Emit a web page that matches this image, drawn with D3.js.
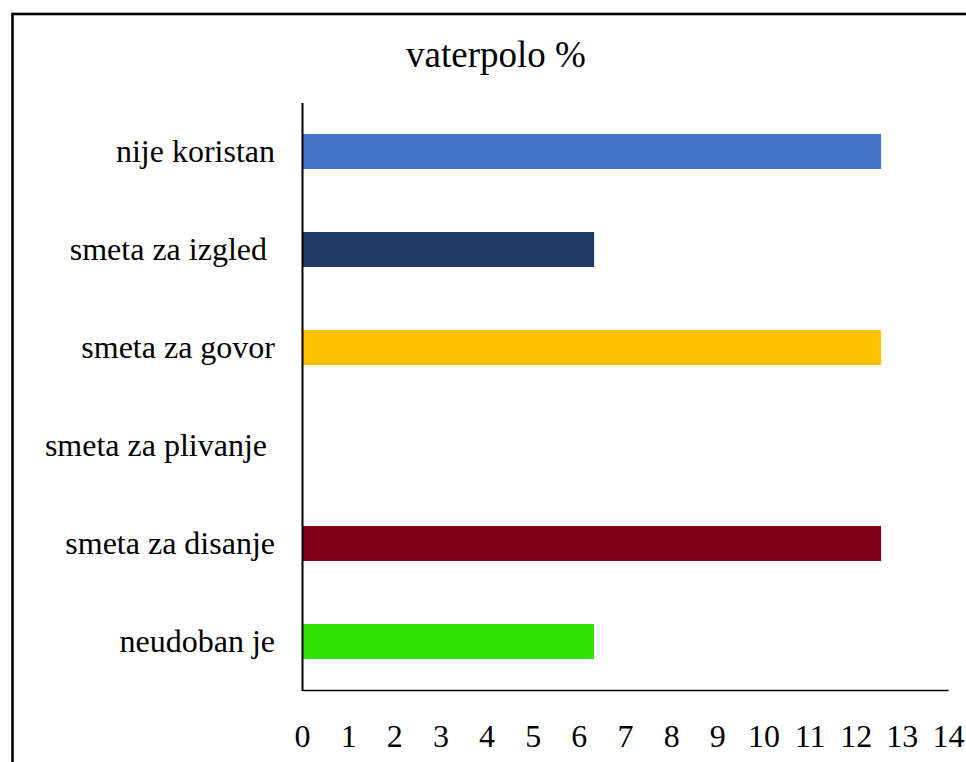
<!DOCTYPE html>
<html>
<head>
<meta charset="utf-8">
<script src="https://cdn.jsdelivr.net/npm/d3@7"></script>
<style>
  body { margin: 0; background: #fff; }
  text { font-family: "Liberation Serif", "Times New Roman", serif; fill: #000; }
</style>
</head>
<body>
<script>
// ---------------------- data ----------------------
var categories = ["nije koristan", "smeta za izgled ", "smeta za govor", "smeta za plivanje ", "smeta za disanje", "neudoban je"];
var values = [12.55, 6.33, 12.55, 0, 12.55, 6.33];
var barColors = ["#4472C4", "#1F3864", "#FFC000", "#7F7F7F", "#7E0016", "#31E206"];
var xTicks = [0, 1, 2, 3, 4, 5, 6, 7, 8, 9, 10, 11, 12, 13, 14];
var title = "vaterpolo %";

// ---------------------- svg + frame ----------------------
var svg = d3.select("body")
     .append("svg")
     .attr("width", 966)
     .attr("height", 762);

svg.append("rect")
     .attr("x", 12.5)
     .attr("y", 14)
     .attr("width", 1000)
     .attr("height", 800)
     .attr("fill", "none")
     .attr("stroke", "#000")
     .attr("stroke-width", 2.6);

// ---------------------- scales ----------------------
var x = d3.scaleLinear().domain([0, 14]).range([302, 948]);
var y = d3.scaleBand()
     .domain(categories)
     .range([102.5, 690.5])
     .paddingInner(0.643)
     .paddingOuter(0.3215);

// ---------------------- title ----------------------
svg.append("text")
     .text(title)
     .attr("x", 496)
     .attr("y", 67)
     .attr("text-anchor", "middle")
     .style("font-size", "37px");

// ---------------------- bars ----------------------
svg.selectAll("rect.bar")
     .data(values)
     .enter()
     .append("rect")
     .attr("class", "bar")
     .attr("x", x(0))
     .attr("y", function(d, i) { return y(categories[i]); })
     .attr("width", function(d) { return x(d) - x(0); })
     .attr("height", y.bandwidth())
     .attr("fill", function(d, i) { return barColors[i]; });

// ---------------------- axes ----------------------
var xAxis = svg.append("g")
     .attr("transform", "translate(0,690)")
     .call(d3.axisBottom(x).tickValues(xTicks).tickSize(0).tickPadding(34).tickFormat(d3.format("d")));
xAxis.select(".domain").attr("stroke", "#000").attr("stroke-width", 1.6);
xAxis.selectAll("text")
     .style("font-size", "32px")
     .style("font-family", "'Liberation Serif', 'Times New Roman', serif")
     .attr("fill", "#000");

var yAxis = svg.append("g")
     .attr("transform", "translate(302,0)")
     .call(d3.axisLeft(y).tickSize(0).tickPadding(27));
yAxis.select(".domain").attr("stroke", "#000").attr("stroke-width", 2);
yAxis.selectAll("text")
     .style("font-size", "32px")
     .style("font-family", "'Liberation Serif', 'Times New Roman', serif")
     .style("white-space", "pre")
     .attr("fill", "#000");
</script>
</body>
</html>
